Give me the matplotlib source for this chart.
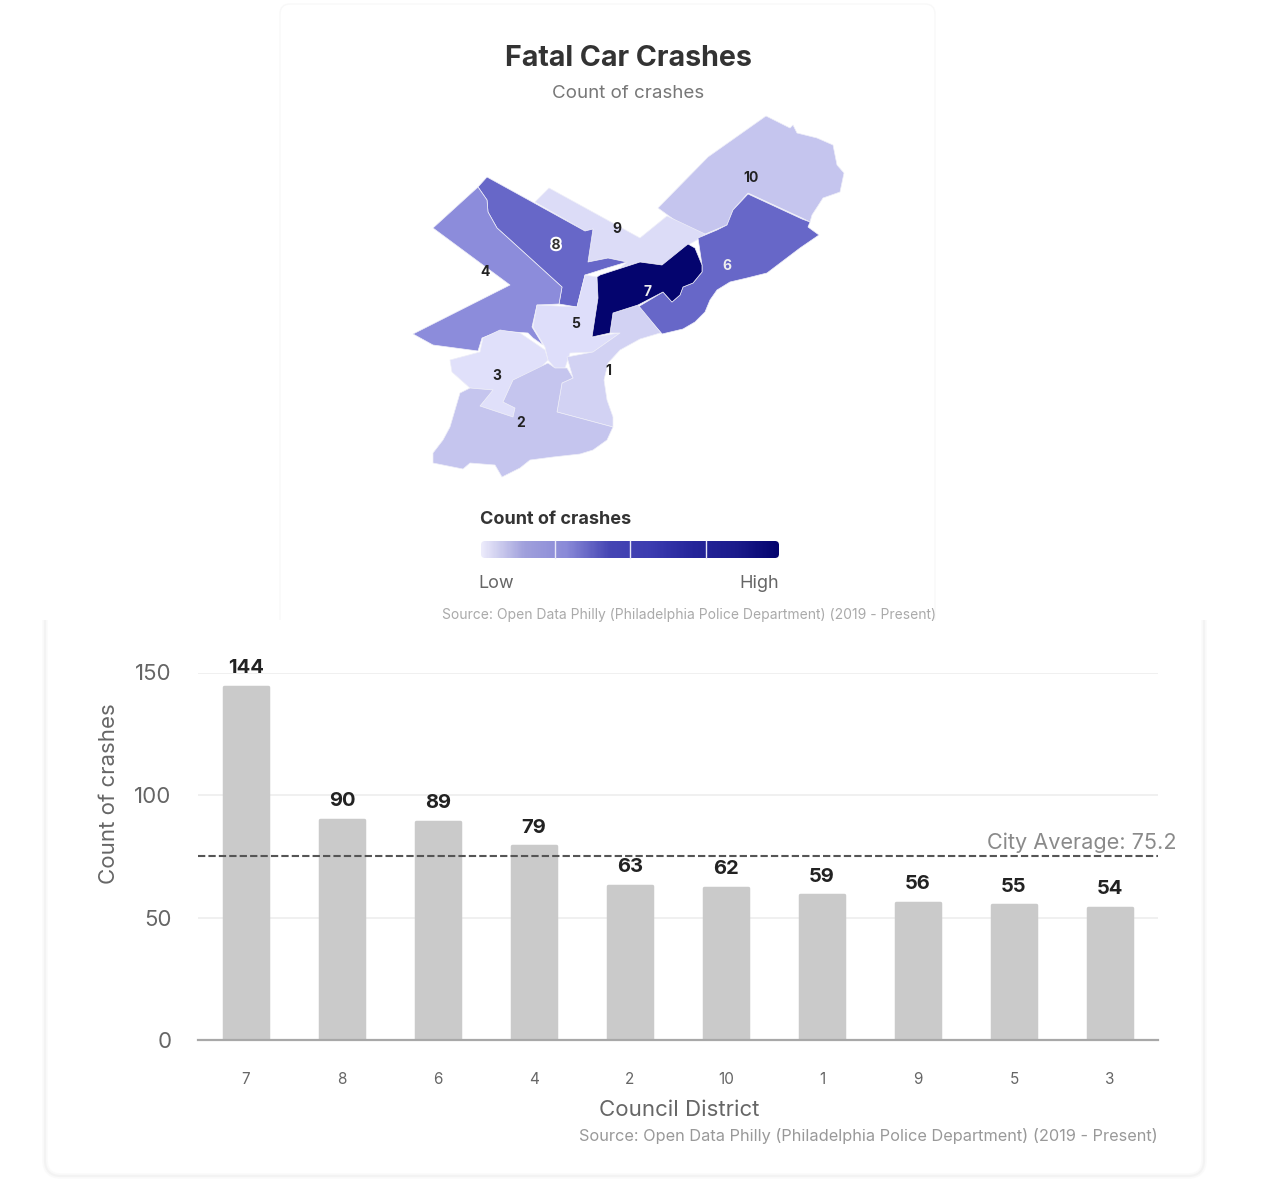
import numpy as np
import matplotlib
matplotlib.use("Agg")
import matplotlib.pyplot as plt
from matplotlib.colors import LinearSegmentedColormap
from matplotlib.patches import FancyBboxPatch, Polygon, Rectangle
import matplotlib.patheffects as pe

plt.rcParams['font.family'] = ['Inter', 'DejaVu Sans']

# ---- data ----
districts = ['7', '8', '6', '4', '2', '10', '1', '9', '5', '3']
crashes = [144, 90, 89, 79, 63, 62, 59, 56, 55, 54]
city_average = 75.2
y_ticks = [0, 50, 100, 150]

d10 = [(766,116),(790,128),(793,125),(797,133),(817,138),(833,145),(837,165),(844,173),(840,192),
       (823,198),(812,215),(810,222),(802,218),(748,193),(733,210),(727,225),(698,237),(658,208),(708,157)]
d9 = [(549,188),(640,238),(667,216),(705,234),(697,240),(688,245),(678,255),(662,265),(640,262),(620,268),
      (627,262),(608,258),(588,262),(593,229),(585,231),(535,202)]
d8 = [(487,177),(585,231),(593,229),(588,262),(608,258),(627,262),(607,268),(585,275),(577,307),(559,304),
      (562,287),(507,237),(497,228),(488,212),(487,200),(478,187)]
d4 = [(478,187),(487,200),(488,212),(497,228),(507,237),(562,287),(559,304),(537,305),(532,327),(543,345),
      (533,338),(528,333),(500,331),(482,338),(478,351),(433,345),(413,334),(510,285),(433,228)]
d6 = [(748,194),(802,219),(810,222),(808,227),(819,235),(800,248),(767,273),(747,278),(730,282),(717,290),
      (710,300),(705,312),(695,322),(683,329),(662,334),(638,307),(663,292),(672,302),(680,295),(683,287),
      (693,283),(702,272),(702,265),(698,238),(717,230),(727,225),(733,210)]
d7 = [(597,277),(600,275),(640,262),(662,265),(688,244),(695,248),(702,265),(702,272),(693,283),(683,287),
      (680,295),(672,302),(663,292),(638,305),(613,313),(610,333),(592,337),(598,298)]
d5 = [(537,305),(577,307),(585,275),(597,277),(598,298),(592,337),(620,333),(593,352),(570,353),(565,368),
      (555,368),(548,360),(545,347),(533,327)]
d1 = [(610,333),(613,313),(638,305),(662,334),(660,333),(640,339),(620,350),(608,363),(604,380),(607,400),
      (613,417),(613,427),(557,412),(562,383),(573,378),(567,357),(593,352),(620,333)]
d3 = [(500,330),(520,333),(545,350),(548,360),(540,368),(513,380),(503,402),(515,408),(513,417),(480,406),
      (493,390),(470,388),(452,372),(450,360),(480,352),(483,338)]
d2 = [(470,388),(460,393),(455,410),(450,427),(443,440),(433,453),(433,463),(463,469),(470,463),(495,465),
      (502,477),(520,468),(530,460),(553,457),(580,454),(593,450),(607,440),(613,427),(557,412),(562,383),
      (573,378),(567,368),(555,368),(548,363),(513,380),(503,402),(515,408),(513,417),(480,406),(493,390)]

map_shapes = [d10, d9, d8, d4, d6, d5, d1, d3, d2, d7]
map_colors = ['#c5c5ee', '#dcdcf7', '#6767c8', '#8c8cdb', '#6767c8', '#dedefa', '#d2d2f3', '#e0e0fa', '#c5c5ee', '#04046e']

map_labels = ['10', '9', '8', '4', '6', '7', '5', '3', '2', '1']
map_label_x = [751, 617, 556, 485, 727, 647, 576, 497, 521, 608]
map_label_y = [178, 229, 245, 272, 266, 292, 324, 376, 423, 371]
map_label_col = ['#222222', '#222222', '#333333', '#222222', '#eeeeee', '#eeeeee', '#222222', '#222222', '#222222', '#222222']
map_label_halo = ['none', 'none', '#ffffff', 'none', 'none', 'none', 'none', 'none', 'none', 'none']

legend_stops = ['#ecebfb', '#a0a0dc', '#8a8ad8', '#4646b4', '#3c3cb0', '#25259a', '#1c1c8c', '#04046e']

# ---- figure ----
W, H = 1280, 1192
fig = plt.figure(figsize=(W / 100, H / 100), dpi=100, facecolor='white')
px = fig.add_axes([0, 0, 1, 1], zorder=0)
px.axis('off')

# cards
for lw, col in [(4, '#fafafa'), (1.5, '#f3f3f3')]:
    px.add_patch(FancyBboxPatch((45, 600), 1159, 576, boxstyle='round,pad=0,rounding_size=16',
                                fc='none', ec=col, lw=lw))
px.add_patch(Rectangle((30, 585), 1190, 35, fc='white', ec='none'))
px.add_patch(FancyBboxPatch((280, 4), 655, 640, boxstyle='round,pad=0,rounding_size=10',
                            fc='white', ec='#f8f8f8', lw=1))
px.add_patch(Rectangle((270, 620), 675, 40, fc='white', ec='none'))

# map
for shape, col in zip(map_shapes, map_colors):
    px.add_patch(Polygon(shape, closed=True, fc=col, ec='#eeeef8', lw=0.5, joinstyle='round'))
for t, x, y, c, h in zip(map_labels, map_label_x, map_label_y, map_label_col, map_label_halo):
    txt = px.text(x, y, t, ha='center', va='center', fontsize=10, fontweight='bold', color=c)
    if h != 'none':
        txt.set_path_effects([pe.withStroke(linewidth=3, foreground=h)])

# titles
px.text(628, 58.5, 'Fatal Car Crashes', ha='center', va='center', fontsize=20.6, fontweight='bold', color='#333333')
px.text(628, 94, 'Count of crashes', ha='center', va='center', fontsize=13.5, color='#777777')
px.text(480, 520, 'Count of crashes', ha='left', va='center', fontsize=13, fontweight='bold', color='#333333')
px.text(478, 584, 'Low', ha='left', va='center', fontsize=13, color='#666666')
px.text(779, 584, 'High', ha='right', va='center', fontsize=13, color='#666666')
px.text(689, 615, 'Source: Open Data Philly (Philadelphia Police Department) (2019 - Present)',
        ha='center', va='center', fontsize=10, color='#aaaaaa')

# colour legend
cmap = LinearSegmentedColormap.from_list('legend', legend_stops)
im = px.imshow(np.linspace(0, 1, 300)[None, :], cmap=cmap, extent=(481, 779, 558, 541), aspect='auto', zorder=2)
clip = FancyBboxPatch((481, 541), 298, 17, boxstyle='round,pad=0,rounding_size=4',
                      fc='none', ec='none', transform=px.transData)
px.add_patch(clip)
im.set_clip_path(clip)
for x in (555, 630, 706):
    px.plot([x, x], [541, 558], color='#e8e8f8', lw=1, zorder=3)

px.set_xlim(0, W)
px.set_ylim(H, 0)

# bar chart
left, right, base, top = 198, 1158, 1040, 672.5
ax = fig.add_axes([left / W, (H - base) / H, (right - left) / W, (base - top) / H], zorder=1)
ax.patch.set_alpha(0)
xs = np.arange(len(districts))
ax.bar(xs, crashes, width=0.465, color='#cacaca', edgecolor='#cacaca', linewidth=2.5,
       joinstyle='round', zorder=2)
for x, v in zip(xs, crashes):
    ax.annotate(str(v), (x, v), xytext=(0, 13.5), textcoords='offset points', ha='center', va='center',
                fontsize=14.5, fontweight='bold', color='#222222', annotation_clip=False)
ax.axhline(city_average, color='#555555', lw=1.5, ls=(0, (3.5, 1.5)), zorder=3, clip_on=False)
ax.annotate(f'City Average: {city_average}', (1.0, city_average), xycoords=('axes fraction', 'data'),
            xytext=(13, 9.5), textcoords='offset points', ha='right', va='center', fontsize=15.6, color='#8a8a8a',
            annotation_clip=False)

ax.set_xlim(-0.5, len(districts) - 0.5)
ax.set_ylim(0, 150)
ax.set_xticks(xs, districts)
ax.set_yticks(y_ticks)
ax.tick_params(axis='x', length=0, pad=23, labelsize=11, labelcolor='#666666')
ax.tick_params(axis='y', length=0, pad=19, labelsize=16, labelcolor='#666666')
ax.grid(axis='y', color='#eeeeee', lw=1.2, zorder=0)
ax.set_axisbelow(True)
for s in ('top', 'right', 'left'):
    ax.spines[s].set_visible(False)
ax.spines['bottom'].set_color('#a8a8a8')
ax.spines['bottom'].set_linewidth(1.6)
ax.spines['bottom'].set_zorder(4)
ax.set_ylabel('Count of crashes', fontsize=16, color='#666666', va='center')
ax.yaxis.set_label_coords((109 - left) / (right - left), (base - 794) / (base - top))
ax.set_xlabel('Council District', fontsize=16, color='#666666', va='center')
ax.xaxis.set_label_coords((679 - left) / (right - left), (base - 1110) / (base - top))
ax.text(1.0, (base - 1135.5) / (base - top), 'Source: Open Data Philly (Philadelphia Police Department) (2019 - Present)',
        transform=ax.transAxes, ha='right', va='center', fontsize=11.75, color='#999999')

fig.savefig('out.png', dpi=100)
